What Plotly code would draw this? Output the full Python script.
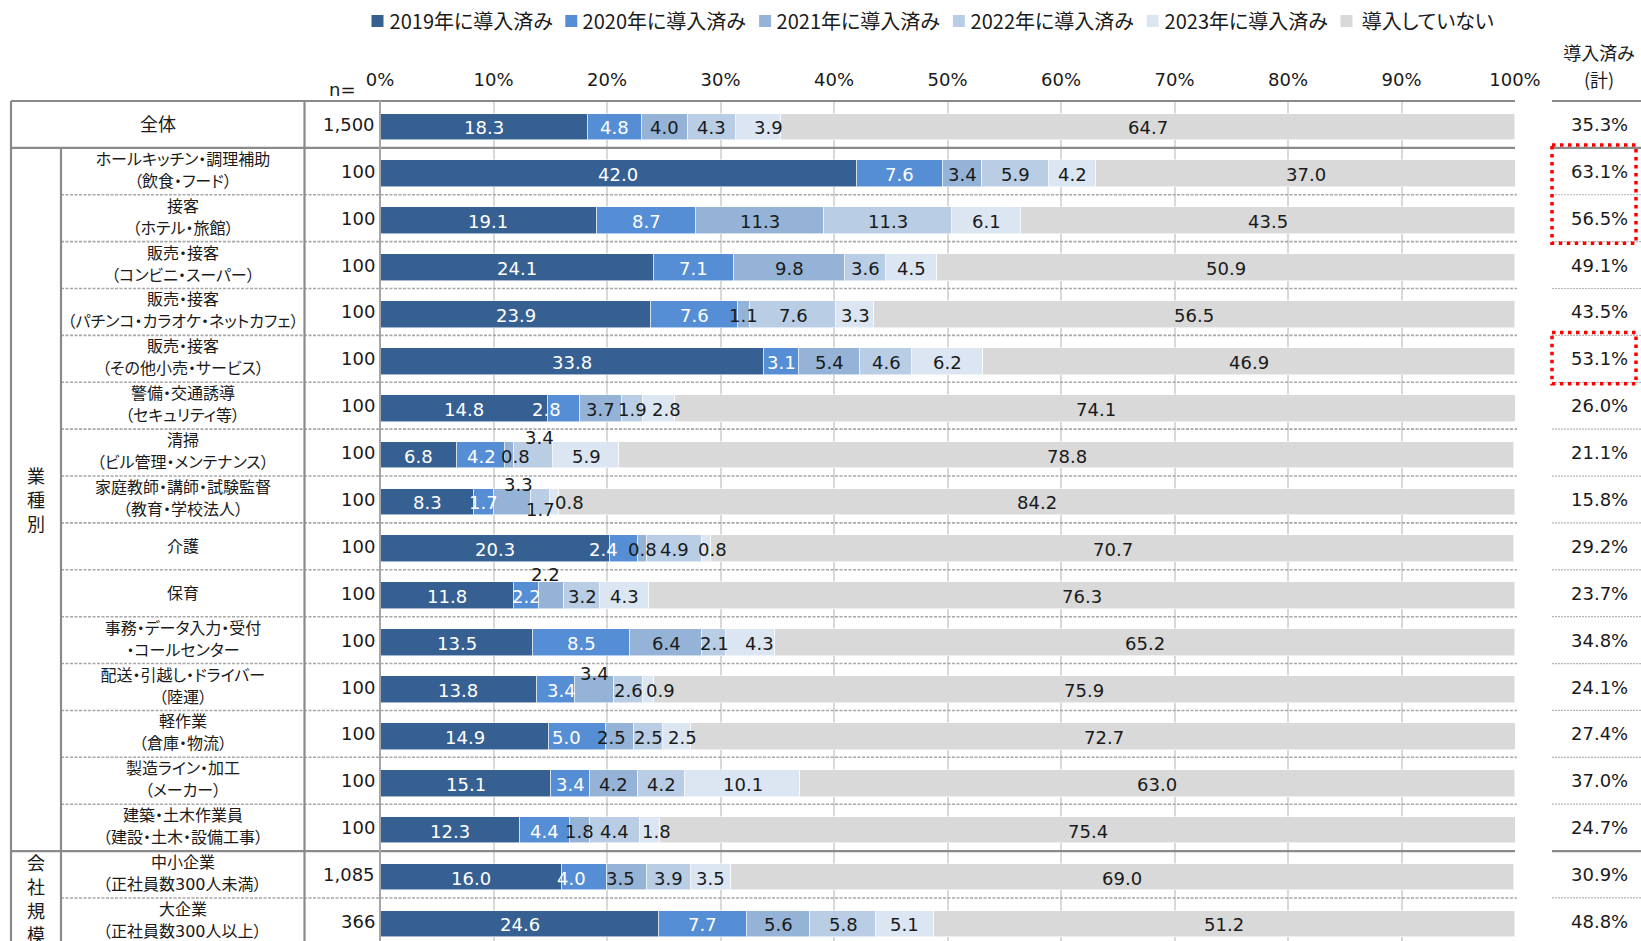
import plotly.graph_objects as go

# ---------------- data ----------------
label_top = [
    "全体", "ホールキッチン・調理補助", "接客", "販売・接客", "販売・接客", "販売・接客",
    "警備・交通誘導", "清掃", "家庭教師・講師・試験監督", "介護", "保育",
    "事務・データ入力・受付", "配送・引越し・ドライバー", "軽作業", "製造ライン・加工",
    "建築・土木作業員", "中小企業", "大企業",
]
label_sub = [
    "", "（飲食・フード）", "（ホテル・旅館）", "（コンビニ・スーパー）",
    "（パチンコ・カラオケ・ネットカフェ）", "（その他小売・サービス）", "（セキュリティ等）",
    "（ビル管理・メンテナンス）", "（教育・学校法人）", "", "", "・コールセンター", "（陸運）",
    "（倉庫・物流）", "（メーカー）", "（建設・土木・設備工事）",
    "（正社員数300人未満）", "（正社員数300人以上）",
]
n_labels = ["1,500"] + ["100"] * 15 + ["1,085", "366"]

series_names = [
    "2019年に導入済み", "2020年に導入済み", "2021年に導入済み",
    "2022年に導入済み", "2023年に導入済み", "導入していない",
]
adopted_2019 = [18.3, 42.0, 19.1, 24.1, 23.9, 33.8, 14.8, 6.8, 8.3, 20.3, 11.8, 13.5, 13.8, 14.9, 15.1, 12.3, 16.0, 24.6]
adopted_2020 = [4.8, 7.6, 8.7, 7.1, 7.6, 3.1, 2.8, 4.2, 1.7, 2.4, 2.2, 8.5, 3.4, 5.0, 3.4, 4.4, 4.0, 7.7]
adopted_2021 = [4.0, 3.4, 11.3, 9.8, 1.1, 5.4, 3.7, 0.8, 3.3, 0.8, 2.2, 6.4, 3.4, 2.5, 4.2, 1.8, 3.5, 5.6]
adopted_2022 = [4.3, 5.9, 11.3, 3.6, 7.6, 4.6, 1.9, 3.4, 1.7, 4.9, 3.2, 2.1, 2.6, 2.5, 4.2, 4.4, 3.9, 5.8]
adopted_2023 = [3.9, 4.2, 6.1, 4.5, 3.3, 6.2, 2.8, 5.9, 0.8, 0.8, 4.3, 4.3, 0.9, 2.5, 10.1, 1.8, 3.5, 5.1]
not_adopted = [64.7, 37.0, 43.5, 50.9, 56.5, 46.9, 74.1, 78.8, 84.2, 70.7, 76.3, 65.2, 75.9, 72.7, 63.0, 75.4, 69.0, 51.2]
adopted_total = [35.3, 63.1, 56.5, 49.1, 43.5, 53.1, 26.0, 21.1, 15.8, 29.2, 23.7, 34.8, 24.1, 27.4, 37.0, 24.7, 30.9, 48.8]

groups = [("業種別", 1, 15), ("会社規模", 16, 17)]
highlight_rows = [(1, 2), (5, 5)]

# ---------------- styling ----------------
series_values = [adopted_2019, adopted_2020, adopted_2021, adopted_2022, adopted_2023, not_adopted]
colors = ["#376092", "#558ED5", "#95B3D7", "#B9CDE5", "#DCE6F2", "#D9D9D9"]
label_colors = ["white", "white", "#1a1a1a", "#1a1a1a", "#1a1a1a", "#1a1a1a"]

# small nudges (px) for crowded value labels: (row, series) -> (dx, dy downwards)
label_nudge = {
    (0, 4): (10, 0),
    (6, 1): (-17, 0), (6, 4): (7, 0),
    (7, 2): (6, 0), (7, 3): (6, -19),
    (8, 2): (6, -18), (8, 3): (0, 7), (8, 4): (15, 0),
    (9, 1): (-21, 0), (9, 4): (6, 0),
    (10, 2): (-6, -22),
    (11, 4): (9, 0),
    (12, 1): (6, 0), (12, 2): (0, -17), (12, 4): (12, 0),
    (13, 1): (-11, 0), (13, 2): (-9, 0), (13, 4): (6, 0),
    (15, 4): (6, 0),
    (16, 1): (-13, 0), (16, 2): (-6, 0),
}

NUM_FONT = "DejaVu Sans, Noto Sans CJK JP"
JP_FONT = "Noto Sans CJK JP"
TXT = "#1a1a1a"

W, H = 1641, 941
TOP = 101            # top of the table / plot area
ROW_H = 46.88        # row pitch in px
X0, X1 = 380, 1515   # plot area (0% .. 100%)
COL_OUT, COL_GRP, COL_N = 11, 61, 304.5
RC0, RC1, RC_MID = 1552, 1641, 1599
PLOT_H = H - TOP
BAR_SHIFT = 0.053    # bars sit slightly below the row centre
BAR_W = 0.57

n_rows = len(label_top)


def px(xp):
    return (xp - X0) / (X1 - X0)


def py(yp):
    return 1 - (yp - TOP) / PLOT_H


def row_top(k):
    return TOP + k * ROW_H


def row_mid(k):
    return TOP + (k + 0.5) * ROW_H


def paper_text(x, y, text, family=NUM_FONT, size=18, xanchor="center"):
    return dict(x=px(x), y=py(y), xref="paper", yref="paper", text=text,
                showarrow=False, xanchor=xanchor, yanchor="middle",
                font=dict(family=family, size=size, color=TXT))


fig = go.Figure()

rows = list(range(n_rows))
for name, vals, col in zip(series_names, series_values, colors):
    fig.add_trace(go.Bar(
        x=vals, y=rows, orientation="h", name=name,
        width=BAR_W, offset=-BAR_W / 2 + BAR_SHIFT,
        marker=dict(color=col, line=dict(color="rgba(255,255,255,0.55)", width=1)),
        hoverinfo="skip", showlegend=False,
    ))

annotations = []

# value labels centred on each segment
for i in rows:
    cum = 0.0
    for j, vals in enumerate(series_values):
        v = vals[i]
        dx, dy = label_nudge.get((i, j), (0, 0))
        annotations.append(dict(
            x=cum + v / 2, y=i + BAR_SHIFT, xref="x", yref="y",
            text=f"{v:.1f}", showarrow=False, xanchor="center", yanchor="middle",
            font=dict(family=NUM_FONT, size=18, color=label_colors[j]),
            xshift=dx, yshift=-dy - 1,
        ))
        cum += v

# row labels, n and totals
for i in rows:
    cx = (COL_GRP + COL_N) / 2 if i != 0 else (COL_OUT + COL_N) / 2
    if label_sub[i]:
        annotations.append(paper_text(cx, row_mid(i) - 12, label_top[i], size=16))
        annotations.append(paper_text(cx, row_mid(i) + 10, label_sub[i], size=16))
    else:
        annotations.append(paper_text(cx, row_mid(i), label_top[i], size=18 if i == 0 else 16))
    annotations.append(paper_text(377, row_mid(i), n_labels[i], xanchor="right"))
    annotations.append(paper_text(RC_MID, row_mid(i), f"{adopted_total[i]:.1f}%"))

# vertical group captions
for text, r0, r1 in groups:
    mid = (row_top(r0) + row_top(r1 + 1)) / 2
    for m, ch in enumerate(text):
        yy = mid + (m - (len(text) - 1) / 2) * 24
        annotations.append(paper_text((COL_OUT + COL_GRP) / 2, yy, ch, family=JP_FONT))

# header texts
annotations.append(paper_text(342, 89, "n="))
annotations.append(paper_text(RC_MID, 52, "導入済み", family=JP_FONT))
annotations.append(paper_text(RC_MID, 78.5, "(計)", family=JP_FONT))

shapes = []

# legend
LEG_X, LEG_STEP, LEG_Y, SQ = 371.5, 193.8, 21, 12
for k, (name, col) in enumerate(zip(series_names, colors)):
    sx = LEG_X + k * LEG_STEP
    shapes.append(dict(type="rect", xref="paper", yref="paper",
                       x0=px(sx), x1=px(sx + SQ), y0=py(LEG_Y - SQ / 2), y1=py(LEG_Y + SQ / 2),
                       fillcolor=col, line=dict(width=0)))
    annotations.append(paper_text(sx + SQ + 3, LEG_Y, name, family=JP_FONT, size=20, xanchor="left"))


def hline(y, x0, x1, color, width, dash="solid"):
    return dict(type="line", xref="paper", yref="paper", x0=px(x0), x1=px(x1),
                y0=py(y), y1=py(y), line=dict(color=color, width=width, dash=dash))


def vline(x, y0, y1, color, width):
    return dict(type="line", xref="paper", yref="paper", x0=px(x), x1=px(x),
                y0=py(y0), y1=py(y1), line=dict(color=color, width=width))


SOLID = "#8a8a8a"
DOTTED = "#a8a8a8"
solid_rows = {0, 1, groups[1][1]}
for k in range(n_rows + 1):
    y = row_top(k)
    if y > H:
        continue
    if k in solid_rows:
        shapes.append(hline(y, COL_OUT, X1, SOLID, 2.2))
        shapes.append(hline(y, RC0, RC1, SOLID, 2.2))
    else:
        shapes.append(hline(y, COL_GRP, X1 + 2, DOTTED, 1.6, "3px,1.5px"))
        shapes.append(hline(y, RC0, RC1, "#b5b5b5", 1.2, "2px,1px"))

shapes.append(vline(COL_OUT, TOP, H, SOLID, 2.2))
shapes.append(vline(COL_GRP, row_top(1), H, SOLID, 2.2))
shapes.append(vline(COL_N, TOP, H, SOLID, 2.2))
shapes.append(vline(X0, TOP, H, "#a6a6a6", 2))

# red dotted emphasis boxes on the total column
for r0, r1 in highlight_rows:
    shapes.append(dict(type="rect", xref="paper", yref="paper",
                       x0=px(RC0), x1=px(1636), y0=py(row_top(r0) - 3), y1=py(row_top(r1 + 1) + 1.5),
                       line=dict(color="#ff0000", width=3.5, dash="3.5px,4.5px"),
                       fillcolor="rgba(0,0,0,0)"))

fig.update_layout(
    width=W, height=H,
    margin=dict(l=X0, r=W - X1, t=TOP, b=0, pad=0),
    barmode="stack", bargap=0,
    plot_bgcolor="white", paper_bgcolor="white",
    showlegend=False,
    font=dict(family=NUM_FONT, color=TXT),
    xaxis=dict(
        range=[0, 100], side="top", tickmode="array",
        tickvals=list(range(0, 101, 10)), ticktext=[f"{v}%" for v in range(0, 101, 10)],
        showgrid=True, gridcolor="#d9d9d9", gridwidth=2,
        zeroline=False, showline=False, ticks="",
        tickfont=dict(family=NUM_FONT, size=18, color=TXT),
        ticklabelstandoff=10, fixedrange=True,
    ),
    yaxis=dict(
        range=[-0.5 + PLOT_H / ROW_H, -0.5], visible=False,
        showgrid=False, zeroline=False, fixedrange=True,
    ),
    annotations=annotations,
    shapes=shapes,
)

# proportional kana spacing for Japanese text, then redraw so text boxes are re-measured
post = """
var st = document.createElement('style');
st.textContent = 'text{font-feature-settings:"palt" 1;} body{margin:0;}';
document.head.appendChild(st);
var gd = document.getElementById('{plot_id}');
return Plotly.newPlot(gd, gd.data, gd.layout, {displayModeBar: false});
"""

fig.write_html("out.html", config={"displayModeBar": False}, post_script=post)
